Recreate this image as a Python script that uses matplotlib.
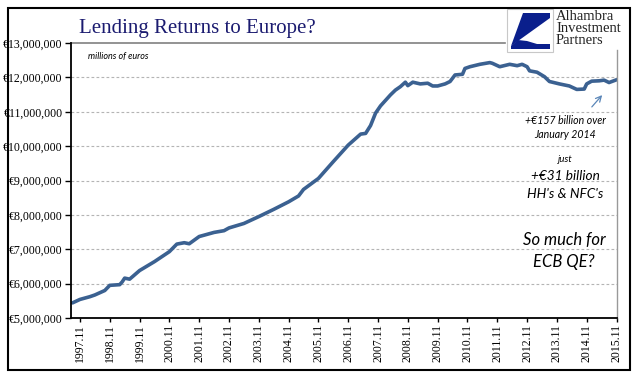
import matplotlib
matplotlib.use('Agg')
import matplotlib.pyplot as plt
from matplotlib.patches import Rectangle, Polygon, FancyArrowPatch
import numpy as np

# loans outstanding, millions of euros
dates = ['1997.08', '1997.11', '1998.03', '1998.05', '1998.09', '1998.11', '1999.03', '1999.04',
         '1999.05', '1999.07', '1999.11', '2000.05', '2000.11', '2001.02', '2001.05', '2001.07',
         '2001.11', '2002.05', '2002.09', '2002.11', '2003.05', '2003.11', '2004.05', '2004.11',
         '2005.03', '2005.05', '2005.11', '2006.05', '2006.11', '2007.04', '2007.06', '2007.08',
         '2007.10', '2007.12', '2008.04', '2008.06', '2008.08', '2008.10', '2008.11', '2009.01',
         '2009.04', '2009.07', '2009.09', '2009.11', '2010.02', '2010.04', '2010.06', '2010.09',
         '2010.10', '2010.12', '2011.04', '2011.08', '2011.09', '2011.12', '2012.04', '2012.07',
         '2012.09', '2012.11', '2012.12', '2013.03', '2013.06', '2013.08', '2013.12', '2014.04',
         '2014.07', '2014.10', '2014.11', '2015.01', '2015.04', '2015.06', '2015.08', '2015.11']
lending = [5440000, 5540000, 5620000, 5670000, 5800000, 5950000, 5970000, 6050000,
           6160000, 6130000, 6380000, 6640000, 6930000, 7150000, 7190000, 7160000,
           7370000, 7490000, 7540000, 7620000, 7750000, 7950000, 8160000, 8380000,
           8550000, 8740000, 9060000, 9550000, 10030000, 10350000, 10370000, 10600000,
           10960000, 11170000, 11490000, 11630000, 11730000, 11860000, 11760000, 11860000,
           11810000, 11830000, 11750000, 11750000, 11810000, 11880000, 12070000, 12090000,
           12260000, 12310000, 12380000, 12430000, 12410000, 12310000, 12380000, 12340000,
           12380000, 12310000, 12190000, 12150000, 12020000, 11880000, 11810000, 11750000,
           11650000, 11660000, 11810000, 11890000, 11900000, 11920000, 11850000, 11930000]
tick_labels = ['%d.11' % y for y in range(1997, 2016)]

W, H = 641, 381


def mon(s):
    y, m = s.split('.')
    return (int(y) - 1997) * 12 + int(m) - 11


def fx(x, y):
    return (x / W, 1 - y / H)


x = np.array([mon(d) for d in dates])
serif = 'Liberation Serif'

fig = plt.figure(figsize=(W / 100, H / 100), dpi=100)
fig.patch.set_facecolor('white')
ax = fig.add_axes([71 / W, 1 - 318 / H, (617 - 71) / W, (318 - 43) / H])

ax.plot(x, lending, color='#3b6191', lw=2.6, solid_joinstyle='round', solid_capstyle='round')

ax.set_xlim(-3.6, 216.2)
ax.set_ylim(5e6, 13e6)
ax.set_yticks(np.arange(5e6, 13.1e6, 1e6))
ax.set_yticklabels(['€{:,.0f}'.format(v) for v in np.arange(5e6, 13.1e6, 1e6)],
                   family=serif, fontsize=8.5)
ax.set_xticks([mon(t) for t in tick_labels])
ax.set_xticklabels(tick_labels, rotation=90, family=serif, fontsize=8.5)
ax.tick_params(axis='y', length=4, width=1, pad=2)
ax.tick_params(axis='x', length=3, width=1, pad=1.5)

for v in np.arange(6e6, 12.1e6, 1e6):
    ax.axhline(v, color='#b4b4b4', lw=0.8, ls=(0, (2.5, 2)), zorder=0)
ax.axhline(13e6, xmax=(505 - 71) / (617 - 71), color='#808080', lw=1.2, clip_on=False)
ax.axvline(216.2, ymax=(318 - 50) / (318 - 43), color='#999999', lw=1, clip_on=False)

for s in ['top', 'right']:
    ax.spines[s].set_visible(False)
ax.spines['left'].set_linewidth(1.3)
ax.spines['bottom'].set_linewidth(1.3)

# title
fig.text(*fx(197, 28), 'Lending Returns to Europe?', family=serif, fontsize=15,
         color='#1b1b70', ha='center', va='center')

# annotations
fig.text(*fx(88, 56), 'millions of euros', style='italic', family='Lato', fontsize=6.5,
         ha='left', va='center')
fig.text(*fx(565, 121), '+€157 billion over', style='italic', family='Lato', fontsize=7.6,
         ha='center', va='center')
fig.text(*fx(565, 134), 'January 2014', style='italic', family='Lato', fontsize=7.6,
         ha='center', va='center')
fig.text(*fx(565, 160), 'just', style='italic', family='Lato', fontsize=7,
         ha='center', va='center')
fig.text(*fx(565, 176), '+€31 billion', style='italic', family='Lato', fontsize=9.8,
         ha='center', va='center')
fig.text(*fx(565, 194), "HH's & NFC's", style='italic', family='Lato', fontsize=9.8,
         ha='center', va='center')
fig.text(*fx(564, 240), 'So much for', style='italic', family='Lato', fontsize=12,
         ha='center', va='center')
fig.text(*fx(564, 262), 'ECB QE?', style='italic', family='Lato', fontsize=12,
         ha='center', va='center')
fig.add_artist(FancyArrowPatch(fx(590, 109), fx(604, 93), transform=fig.transFigure,
                               arrowstyle='->,head_length=4,head_width=2',
                               color='#5a86b8', lw=0.9, mutation_scale=1))

# logo
fig.add_artist(Rectangle(fx(507, 52), 46 / W, 43 / H, transform=fig.transFigure,
                         facecolor='white', edgecolor='#c8c8c8', lw=0.8))
fig.add_artist(Polygon([fx(523, 13), fx(550, 13), fx(550, 18), fx(511, 46)], closed=True,
                       transform=fig.transFigure, facecolor='#0a1f8c', edgecolor='none'))
fig.add_artist(Polygon([fx(511, 46), fx(518, 40), fx(527, 41), fx(537, 44), fx(550, 44),
                        fx(550, 49), fx(511, 49)], closed=True,
                       transform=fig.transFigure, facecolor='#0a1f8c', edgecolor='none'))
for i, word in enumerate(['Alhambra', 'Investment', 'Partners']):
    fig.text(*fx(556, 17 + 11.5 * i), word, family=serif, fontsize=10.5, color='#222222',
             ha='left', va='center')

# outer frame
fig.add_artist(Rectangle(fx(8, 370), 622 / W, 362 / H, transform=fig.transFigure,
                         facecolor='none', edgecolor='black', lw=1.5))

fig.savefig('out.png', dpi=100)
